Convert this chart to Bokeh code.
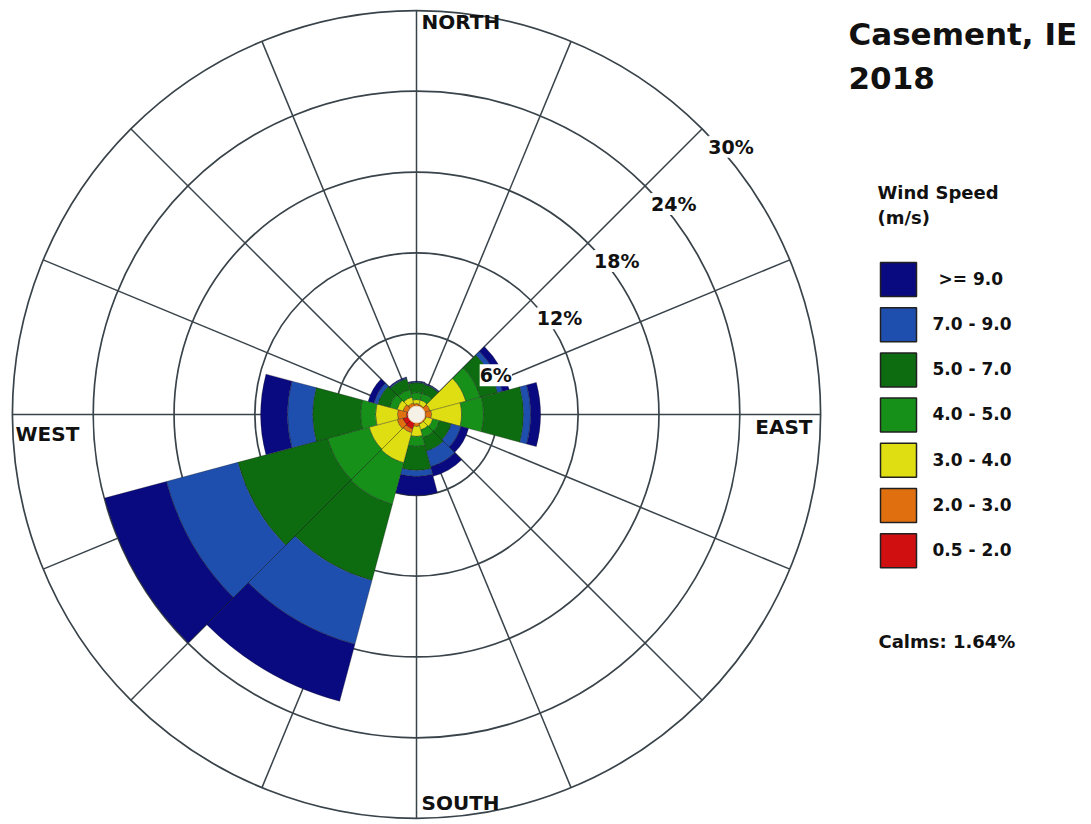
import math
from bokeh.plotting import figure
from bokeh.models import Range1d, ColumnDataSource, Label
from bokeh.embed import file_html
from bokeh.resources import INLINE

# ---------------- data ----------------
directions = [0, 30, 60, 90, 120, 150, 180, 210, 240, 270, 300, 330]
dir_names = ["N", "NNE", "ENE", "E", "ESE", "SSE", "S", "SSW", "WSW", "W", "WNW", "NNW"]
speed_classes = ["0.5 - 2.0", "2.0 - 3.0", "3.0 - 4.0", "4.0 - 5.0", "5.0 - 7.0", "7.0 - 9.0", ">= 9.0"]
class_colors = ["#d01010", "#e0700f", "#dede12", "#17901a", "#0d6b10", "#1f4fae", "#0a0a80"]

# frequency (%) of each speed class, per direction
f_05_2 = [0.59, 0.52, 0.59, 0.67, 0.52, 0.52, 0.59, 1.11, 1.04, 0.74, 0.67, 0.59]
f_2_3 = [0.22, 0.22, 0.45, 0.45, 0.22, 0.22, 0.30, 0.30, 0.45, 0.67, 0.37, 0.30]
f_3_4 = [0.30, 0.37, 2.75, 2.23, 0.52, 0.45, 0.74, 2.30, 2.15, 1.63, 0.45, 0.45]
f_4_5 = [0.52, 0.52, 1.11, 1.63, 0.52, 0.59, 0.74, 3.19, 3.19, 1.11, 0.59, 0.59]
f_5_7 = [0.74, 0.67, 1.34, 2.97, 0.89, 1.04, 1.78, 5.86, 6.90, 3.56, 0.89, 0.82]
f_7_9 = [0.07, 0.07, 0.37, 0.52, 0.74, 1.19, 0.45, 4.90, 5.49, 1.86, 0.30, 0.07]
f_9_up = [0.04, 0.04, 0.52, 0.74, 0.59, 0.74, 1.41, 4.38, 4.75, 2.00, 0.45, 0.07]
series = [f_05_2, f_2_3, f_3_4, f_4_5, f_5_7, f_7_9, f_9_up]

calms = 1.64
ring_values = [6, 12, 18, 24, 30]
ring_labels = ["6%", "12%", "18%", "24%", "30%"]
compass_labels = ["NORTH", "EAST", "SOUTH", "WEST"]
title_lines = ["Casement, IE", "2018"]
legend_title = ["Wind Speed", "(m/s)"]

# ---------------- layout ----------------
W, H = 1091, 824
CX, CY = 416, 414          # centre of the rose in pixels
S = 13.47                  # pixels per percent
SECTOR = 30.0
FONT = "DejaVu Sans"


def px(xp, yp):
    return (xp - CX) / S, (CY - yp) / S


p = figure(width=W, height=H, output_backend="svg", toolbar_location=None,
           x_range=Range1d(-CX / S, (W - CX) / S), y_range=Range1d(-(H - CY) / S, CY / S),
           x_axis_type=None, y_axis_type=None, min_border=0, outline_line_color=None,
           background_fill_color="white", border_fill_color="white")
p.grid.visible = False

grid_col = "#39434a"
# spokes every 22.5 degrees
rmax = ring_values[-1]
sx0, sy0, sx1, sy1 = [], [], [], []
for k in range(16):
    a = math.radians(90 - k * 22.5)
    sx0.append(0); sy0.append(0)
    sx1.append(rmax * math.cos(a)); sy1.append(rmax * math.sin(a))
p.segment(sx0, sy0, sx1, sy1, line_color=grid_col, line_width=1.5)
# rings
p.arc(x=[0] * len(ring_values), y=[0] * len(ring_values), radius=ring_values,
      start_angle=0, end_angle=2 * math.pi, line_color=grid_col, line_width=1.7)

# stacked wedges
xs, ys, inner, outer, st, en, cols = [], [], [], [], [], [], []
for i, d in enumerate(directions):
    cum = 0.0
    for k, ser in enumerate(series):
        v = ser[i]
        xs.append(0); ys.append(0)
        inner.append(cum)
        cum += v
        outer.append(cum)
        st.append(math.radians(90 - d - SECTOR / 2))
        en.append(math.radians(90 - d + SECTOR / 2))
        cols.append(class_colors[k])
src = ColumnDataSource(dict(x=xs, y=ys, inner=inner, outer=outer, start=st, end=en, color=cols))
p.annular_wedge(x="x", y="y", inner_radius="inner", outer_radius="outer",
                start_angle="start", end_angle="end", fill_color="color",
                line_color="#1a1a1a", line_alpha=0.45, line_width=0.7, source=src)

# calm circle
p.circle(x=[0], y=[0], radius=[0.62], fill_color="#f6f1e6", line_color="#e8dcc0", line_width=1)

# ring labels along 45 degrees
for rv, rl in zip(ring_values, ring_labels):
    a = math.radians(45)
    p.add_layout(Label(x=rv * math.cos(a), y=rv * math.sin(a), x_offset=6, y_offset=-18,
                       text=rl, text_font=FONT, text_font_style="bold",
                       text_font_size="19px", text_color="#111111", text_baseline="alphabetic",
                       background_fill_color="white", background_fill_alpha=1.0))


def add_text(xp, yp, txt, size, align="left"):
    # yp is the wanted baseline in pixels; correct for renderer baseline placement
    x, y = px(xp, yp - 0.45 * size)
    p.add_layout(Label(x=x, y=y, text=txt, text_font=FONT, text_font_style="bold",
                       text_font_size="%dpx" % size, text_color="#111111", text_align=align,
                       text_baseline="alphabetic"))

# compass labels
add_text(421, 30, compass_labels[0], 20)
add_text(812, 435, compass_labels[1], 20, "right")
add_text(421, 811, compass_labels[2], 20)
add_text(15, 442, compass_labels[3], 20)

# title
add_text(848, 47, title_lines[0], 31)
add_text(848, 91, title_lines[1], 31)

# legend
add_text(877, 200, legend_title[0], 18)
add_text(877, 225, legend_title[1], 18)
box_x = 898
for j in range(len(speed_classes)):
    k = len(speed_classes) - 1 - j
    yc = 279 + 45.2 * j
    bx, by = px(box_x, yc)
    p.rect(x=[bx], y=[by], width=36 / S, height=34 / S, fill_color=class_colors[k],
           line_color="#202020", line_width=1.5)
    lab = speed_classes[k]
    add_text(938 if lab.startswith(">") else 932, yc + 7, lab, 17)

add_text(878, 649, "Calms: %.2f%%" % calms, 18)

open("out.html", "w").write(file_html(p, INLINE))
